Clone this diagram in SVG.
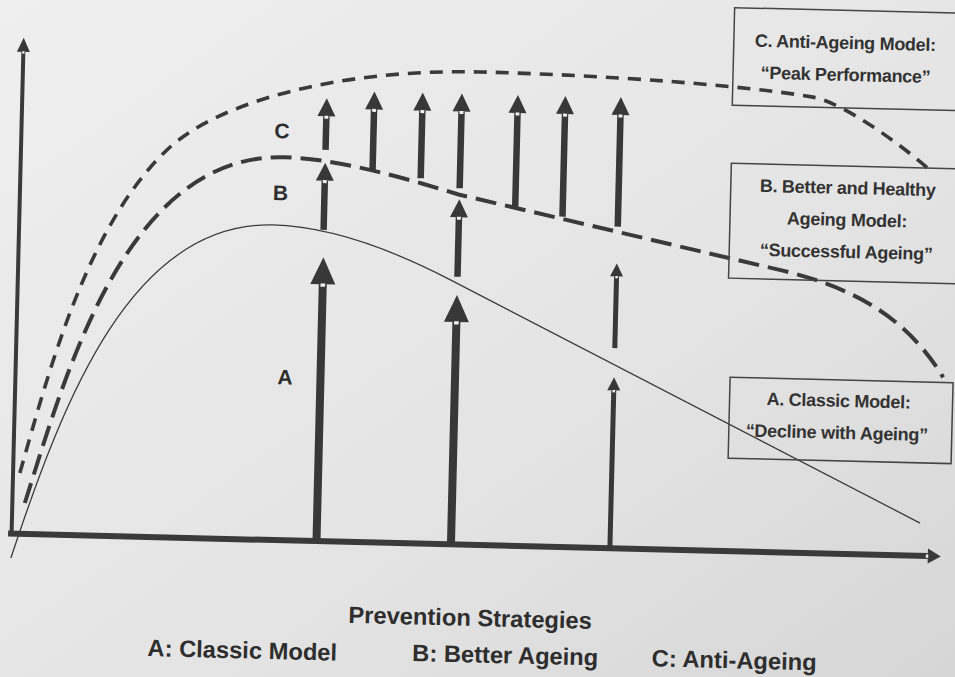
<svg xmlns="http://www.w3.org/2000/svg" width="955" height="677" viewBox="0 0 955 677">
<defs>
<linearGradient id="bg" x1="0" y1="0" x2="1" y2="1">
<stop offset="0" stop-color="#efefef"/>
<stop offset="0.6" stop-color="#e4e4e4"/>
<stop offset="1" stop-color="#d6d6d6"/>
</linearGradient>
<marker id="hL" markerUnits="userSpaceOnUse" orient="auto" markerWidth="32" markerHeight="30" viewBox="-4 -15 32 30" refX="0" refY="0" overflow="visible">
<path d="M0,-12.5 L27,0 L0,12.5 Z" fill="#383838"/>
<rect x="-2.5" y="-2.3" width="3.2" height="4.6" fill="#f2f2f2"/>
</marker>
<marker id="hM" markerUnits="userSpaceOnUse" orient="auto" markerWidth="24" markerHeight="22" viewBox="-4 -11 24 22" refX="0" refY="0" overflow="visible">
<path d="M0,-9 L18,0 L0,9 Z" fill="#383838"/>
<rect x="-2.5" y="-1.9" width="3" height="3.8" fill="#f2f2f2"/>
</marker>
<marker id="hS" markerUnits="userSpaceOnUse" orient="auto" markerWidth="18" markerHeight="16" viewBox="-3 -8 18 16" refX="0" refY="0" overflow="visible">
<path d="M0,-6.5 L13,0 L0,6.5 Z" fill="#383838"/>
<rect x="-2" y="-1.2" width="2.4" height="2.4" fill="#f2f2f2"/>
</marker>
<marker id="hY" markerUnits="userSpaceOnUse" orient="auto" markerWidth="18" markerHeight="16" viewBox="-3 -8 18 16" refX="0" refY="0" overflow="visible">
<path d="M0,-6.5 L14,0 L0,6.5 Z" fill="#3a3a3a"/>
<rect x="-1.8" y="-1.1" width="2.4" height="2.2" fill="#f2f2f2"/>
</marker>
<marker id="hX" markerUnits="userSpaceOnUse" orient="auto" markerWidth="18" markerHeight="18" viewBox="-3 -9 18 18" refX="0" refY="0" overflow="visible">
<path d="M0,-7.5 L13,0 L0,7.5 Z" fill="#3a3a3a"/>
<rect x="-2" y="-1.6" width="2.4" height="3.2" fill="#f2f2f2"/>
</marker>
</defs>
<style>
.ax{stroke:#3a3a3a;fill:none}
.solid{stroke:#3c3c3c;stroke-width:1.3;fill:none}
.dB{stroke:#3a3a3a;stroke-width:4;fill:none;stroke-dasharray:21 9}
.dC{stroke:#3a3a3a;stroke-width:3.6;fill:none;stroke-dasharray:13 9}
.aL{stroke:#383838;stroke-width:8;marker-end:url(#hL)}
.aM{stroke:#383838;stroke-width:6.5;marker-end:url(#hM)}
.aS{stroke:#383838;stroke-width:5;marker-end:url(#hS)}
.box{fill:none;stroke:#454545;stroke-width:1.5}
.bt{font-family:"Liberation Sans",Arial,Helvetica,sans-serif;font-weight:bold;font-size:18px;letter-spacing:-0.3px;fill:#333333;text-anchor:middle}
.lt{font-family:"Liberation Sans",Arial,Helvetica,sans-serif;font-weight:bold;font-size:21px;fill:#2e2e2e;text-anchor:middle}
.ft{font-family:"Liberation Sans",Arial,Helvetica,sans-serif;font-weight:bold;font-size:23.7px;fill:#2e2e2e;text-anchor:middle}
</style>
<rect x="0" y="0" width="955" height="677" fill="url(#bg)"/>
<g transform="rotate(1.4 477 338)">
<g id="axes">
<line class="ax" x1="16.5" y1="545" x2="16.5" y2="63" stroke-width="4" marker-end="url(#hY)"/>
<line class="ax" x1="13" y1="545" x2="933" y2="545" stroke-width="6" marker-end="url(#hX)"/>
</g>
<g id="connectors">
<path id="curveA" class="solid" d="M16.4,569.4 C65.7,406.7 130,230 270,230 C330,230 396,254.6 450,281 L924.5,512.2"/>
<path id="curveB" class="dB" d="M29,514 C65.4,389.2 120,162 280,162 C330,162 395,178 455,195 L780,263 C850,278 905,305 944,366"/>
<path id="curveC" class="dC" d="M23.3,484.2 C50.8,377.7 84.7,235.5 162.4,157.6 C211.8,108 333.5,72 473.5,72 C600,72 740,79 807,89 C836.7,93.4 898.9,135.7 929,162"/>
<g id="arrowsA">
<line class="aL" x1="321.5" y1="545" x2="321.5" y2="288"/>
<line class="aL" x1="456" y1="545" x2="456" y2="322.5"/>
<line class="aS" x1="615" y1="545" x2="615" y2="387"/>
</g>
<g id="arrowsB">
<line class="aM" x1="321" y1="233.7" x2="321" y2="184.4"/>
<line class="aM" x1="456" y1="277.2" x2="456" y2="217.7"/>
<line class="aS" x1="615" y1="344.7" x2="615" y2="273"/>
</g>
<g id="arrowsC">
<line class="aM" x1="321" y1="153.7" x2="321" y2="120"/>
<line class="aM" x1="368.5" y1="172.5" x2="368.5" y2="112"/>
<line class="aM" x1="416.8" y1="179.7" x2="416.8" y2="112"/>
<line class="aM" x1="456" y1="188.7" x2="456" y2="112"/>
<line class="aM" x1="512" y1="205.7" x2="512" y2="112"/>
<line class="aM" x1="559.5" y1="214.6" x2="559.5" y2="112"/>
<line class="aM" x1="615" y1="223.2" x2="615" y2="111.5"/>
</g>
</g>
<g id="curve-labels">
<text class="lt" x="277" y="143">C</text>
<text class="lt" x="277" y="205">B</text>
<text class="lt" x="286" y="389">A</text>
</g>
<g id="node-C">
<rect class="box" x="726.5" y="1.5" width="250" height="97.5"/>
<text class="bt" x="838" y="40">C. Anti-Ageing Model:</text>
<text class="bt" x="839" y="72">“Peak Performance”</text>
</g>
<g id="node-B">
<rect class="box" x="727" y="157" width="250" height="115"/>
<text class="bt" x="844" y="185">B. Better and Healthy</text>
<text class="bt" x="844" y="217">Ageing Model:</text>
<text class="bt" x="844" y="249">“Successful Ageing”</text>
</g>
<g id="node-A">
<rect class="box" x="731" y="371" width="223" height="81"/>
<text class="bt" x="840" y="398">A. Classic Model:</text>
<text class="bt" x="839" y="430">“Decline with Ageing”</text>
</g>
<g id="legend">
<text class="ft" x="477" y="626">Prevention Strategies</text>
<text class="ft" x="250" y="664">A: Classic Model</text>
<text class="ft" x="513" y="662.5">B: Better Ageing</text>
<text class="ft" x="742" y="662">C: Anti-Ageing</text>
</g>
</g>
</svg>
